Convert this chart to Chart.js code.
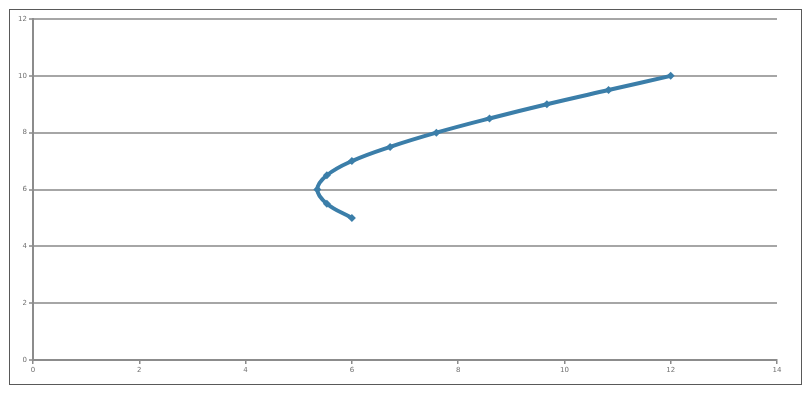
<!DOCTYPE html>
<html>
<head>
<meta charset="utf-8">
<script src="https://cdn.jsdelivr.net/npm/chart.js@4.4.1/dist/chart.umd.min.js"></script>
<style>
  html, body { margin: 0; padding: 0; background: #ffffff; }
  #wrap { width: 812px; height: 401px; position: relative; }
</style>
</head>
<body>
<div id="wrap"><canvas id="c" width="812" height="401"></canvas></div>
<script>
const xValues = [6, 5.53, 5.35, 5.53, 6, 6.72, 7.59, 8.59, 9.67, 10.83, 12];
const yValues = [5, 5.5, 6, 6.5, 7, 7.5, 8, 8.5, 9, 9.5, 10];
const xTicks = [0, 2, 4, 6, 8, 10, 12, 14];
const yTicks = [0, 2, 4, 6, 8, 10, 12];

const points = xValues.map((x, i) => ({ x: x, y: yValues[i] }));

const borderPlugin = {
  id: 'outerBorder',
  afterDraw(chart) {
    const ctx = chart.ctx;
    ctx.save();
    ctx.strokeStyle = '#595959';
    ctx.lineWidth = 1;
    ctx.strokeRect(9.5, 9.5, 792, 375);
    ctx.restore();
  }
};

new Chart(document.getElementById('c'), {
  type: 'scatter',
  data: {
    datasets: [{
      data: points,
      showLine: true,
      borderColor: '#3b7ea9',
      backgroundColor: '#3b7ea9',
      borderWidth: 4,
      tension: 0.4,
      pointStyle: 'rectRot',
      pointRadius: 4,
      pointBorderWidth: 0,
      pointBackgroundColor: '#3b7ea9'
    }]
  },
  options: {
    responsive: false,
    animation: false,
    devicePixelRatio: 1,
    layout: { padding: { left: 0, top: 19, right: 35, bottom: 0 } },
    plugins: { legend: { display: false }, tooltip: { enabled: false } },
    scales: {
      x: {
        type: 'linear',
        min: 0, max: 14,
        afterBuildTicks(scale) { scale.ticks = xTicks.map(v => ({ value: v })); },
        afterFit(scale) { scale.height = 41; },
        grid: { drawOnChartArea: false, drawTicks: true, tickLength: 4, color: '#8a8a8a', lineWidth: 1.5 },
        border: { color: '#8c8c8c', width: 2 },
        ticks: { color: '#707070', font: { family: 'DejaVu Sans', size: 7 }, padding: 2, maxRotation: 0 }
      },
      y: {
        type: 'linear',
        min: 0, max: 12,
        afterBuildTicks(scale) { scale.ticks = yTicks.map(v => ({ value: v })); },
        afterFit(scale) { scale.width = 33; },
        grid: { drawOnChartArea: true, drawTicks: true, tickLength: 4, color: '#a6a6a6', lineWidth: 2 },
        border: { color: '#8c8c8c', width: 2 },
        ticks: { color: '#707070', font: { family: 'DejaVu Sans', size: 7 }, padding: 2 }
      }
    }
  },
  plugins: [borderPlugin]
});
</script>
</body>
</html>
